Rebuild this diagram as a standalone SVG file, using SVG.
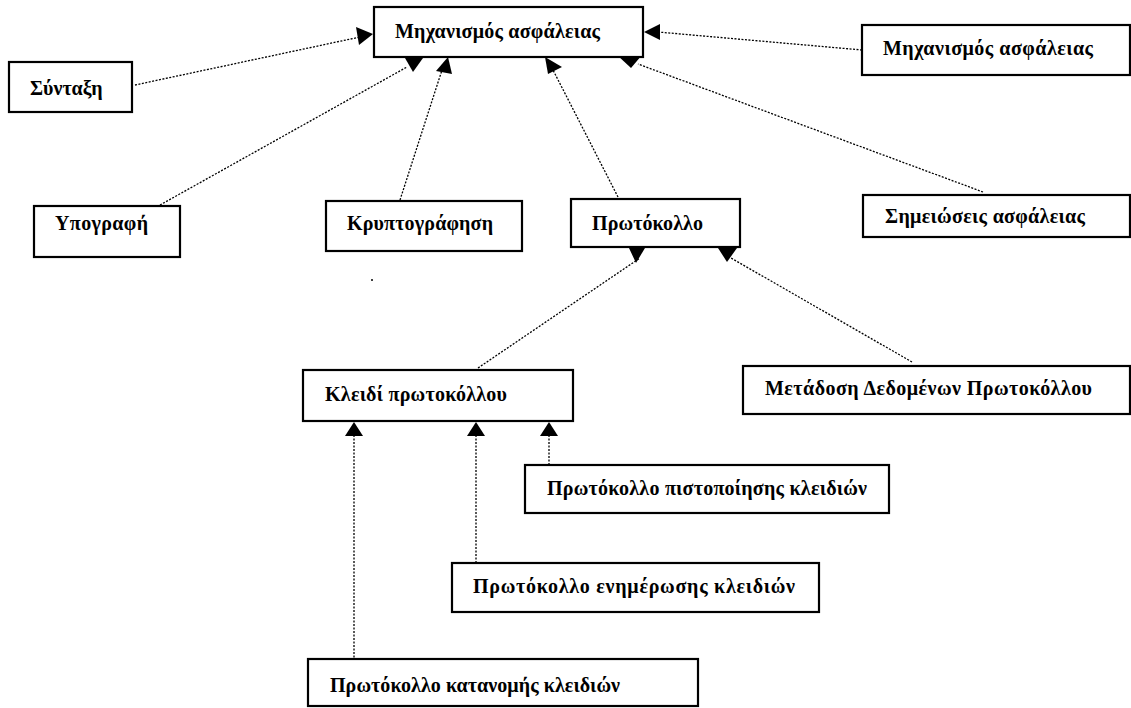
<svg xmlns="http://www.w3.org/2000/svg" width="1131" height="708" viewBox="0 0 1131 708">
  <style>
    .box { fill: #fff; stroke: #000; stroke-width: 2.2; }
    .lbl { font-family: "Liberation Serif", "DejaVu Serif", serif; font-size: 20px; font-weight: bold; fill: #000; }
    .link { fill: none; stroke: #000; stroke-width: 1.3; stroke-dasharray: 2 1.5; }
    .head { fill: #000; stroke: none; }
  </style>
  <rect width="1131" height="708" fill="#fff"/>

  <!-- dotted connectors with their arrowheads -->
  <g id="connectors">
    <line class="link" x1="135" y1="85" x2="360" y2="37"/>
    <polygon class="head" points="373,34 356,27 359,45"/>

    <line class="link" x1="160" y1="205" x2="407" y2="67"/>
    <polygon class="head" points="405,58 423,58 413,72"/>

    <line class="link" x1="400" y1="200" x2="442" y2="70"/>
    <polygon class="head" points="448,57 436,71 452,74"/>

    <line class="link" x1="618" y1="197" x2="553" y2="70"/>
    <polygon class="head" points="545,57 562,67 548,74"/>

    <line class="link" x1="983" y1="192" x2="638" y2="64"/>
    <polygon class="head" points="617,55 642,55 631,68"/>

    <line class="link" x1="862" y1="50" x2="658" y2="32"/>
    <polygon class="head" points="644,32 660,24 660,40"/>

    <line class="link" x1="478" y1="368" x2="640" y2="258"/>
    <polygon class="head" points="629,248 645,248 636,263"/>

    <line class="link" x1="912" y1="362" x2="731" y2="258"/>
    <polygon class="head" points="718,248 737,248 727,262"/>

    <line class="link" x1="354" y1="435" x2="354" y2="658"/>
    <polygon class="head" points="354,422 345,436 363,436"/>

    <line class="link" x1="476" y1="435" x2="476" y2="562"/>
    <polygon class="head" points="476,422 467,436 485,436"/>

    <line class="link" x1="549" y1="435" x2="549" y2="465"/>
    <polygon class="head" points="549,422 540,436 558,436"/>

    <circle cx="372" cy="280" r="1" fill="#000"/>
  </g>

  <g id="mechanism">
    <rect class="box" x="374" y="7" width="269" height="50"/>
    <text class="lbl" x="395" y="38" textLength="205">Μηχανισμός ασφάλειας</text>
  </g>

  <g id="syntax">
    <rect class="box" x="9" y="62" width="123" height="50"/>
    <text class="lbl" x="30" y="95">Σύνταξη</text>
  </g>

  <g id="signature">
    <rect class="box" x="34" y="206" width="146" height="51"/>
    <text class="lbl" x="55" y="230" textLength="93">Υπογραφή</text>
  </g>

  <g id="encryption">
    <rect class="box" x="326" y="201" width="196" height="50"/>
    <text class="lbl" x="347" y="230" textLength="146">Κρυπτογράφηση</text>
  </g>

  <g id="protocol">
    <rect class="box" x="571" y="199" width="169" height="48"/>
    <text class="lbl" x="592" y="230" textLength="111">Πρωτόκολλο</text>
  </g>

  <g id="mechanism-right">
    <rect class="box" x="862" y="25" width="268" height="50"/>
    <text class="lbl" x="883" y="55" textLength="210">Μηχανισμός ασφάλειας</text>
  </g>

  <g id="security-notes">
    <rect class="box" x="863" y="195" width="267" height="42"/>
    <text class="lbl" x="885" y="223" textLength="200">Σημειώσεις ασφάλειας</text>
  </g>

  <g id="protocol-key">
    <rect class="box" x="303" y="370" width="270" height="51"/>
    <text class="lbl" x="325" y="401" textLength="182">Κλειδί πρωτοκόλλου</text>
  </g>

  <g id="protocol-data">
    <rect class="box" x="743" y="366" width="387" height="48"/>
    <text class="lbl" x="765" y="395" textLength="327">Μετάδοση Δεδομένων Πρωτοκόλλου</text>
  </g>

  <g id="key-certification">
    <rect class="box" x="525" y="465" width="364" height="48"/>
    <text class="lbl" x="547" y="495" textLength="320">Πρωτόκολλο πιστοποίησης κλειδιών</text>
  </g>

  <g id="key-update">
    <rect class="box" x="452" y="563" width="367" height="49"/>
    <text class="lbl" x="473" y="593" textLength="322">Πρωτόκολλο ενημέρωσης κλειδιών</text>
  </g>

  <g id="key-distribution">
    <rect class="box" x="308" y="659" width="390" height="47"/>
    <text class="lbl" x="330" y="692" textLength="290">Πρωτόκολλο κατανομής κλειδιών</text>
  </g>
</svg>
